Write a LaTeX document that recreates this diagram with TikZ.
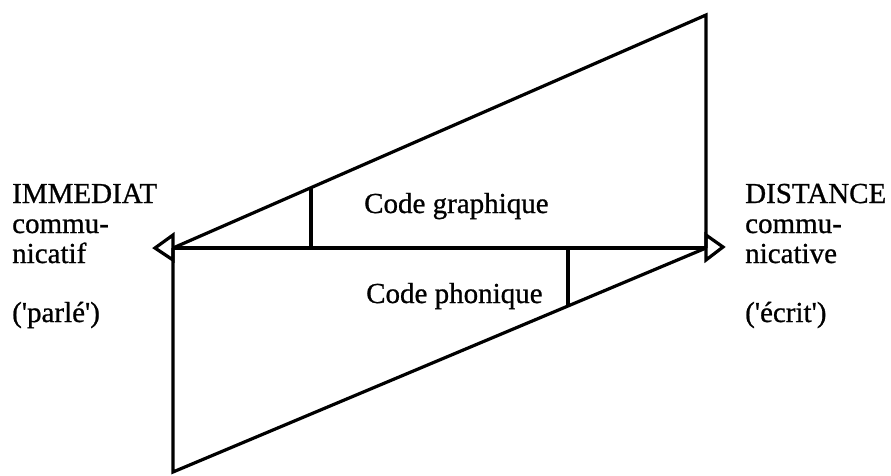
\documentclass[tikz,border=0pt]{standalone}
\usepackage{fontspec}
\setmainfont{Liberation Serif}
\newfontfamily\heavyserif[FakeBold=0.8]{Liberation Serif}
\begin{document}
\begin{tikzpicture}[x=1pt,y=-1pt,
  ln/.style={line width=3.2pt,line join=miter},
  lbl/.style={inner sep=0pt,anchor=base west,font=\heavyserif\fontsize{29}{30}\selectfont},
  code/.style={inner sep=0pt,anchor=base west,font=\heavyserif\fontsize{29}{30}\selectfont}]
\useasboundingbox (0,0) rectangle (891,476);
% key points
\coordinate (L) at (173,248);
\coordinate (R) at (706,248);
\coordinate (T) at (706,15);
\coordinate (B) at (173,472);
\coordinate (g1) at (311,188);
\coordinate (g2) at (311,248);
\coordinate (p1) at (568,248);
\coordinate (p2) at (568,306);
% triangles
\draw[ln] (L) -- (T) -- (R);
\draw[ln] (L) -- (B) -- (R);
\draw[ln] (L) -- (R);
\draw[ln] (g1) -- (g2);
\draw[ln] (p1) -- (p2);
% arrow heads
\draw[ln] (173,235) -- (155,248) -- (173,260) -- cycle;
\draw[ln] (706,235) -- (723,247) -- (706,260) -- cycle;
% texts
\node[code] (cg) at (364,213) {Code graphique};
\node[code] (cp) at (366,303) {Code phonique};
\node[lbl] (l1) at (12,203) {IMMEDIAT};
\node[lbl] (l2) at (12,233) {commu-};
\node[lbl] (l3) at (12,263) {nicatif};
\node[lbl] (l4) at (12,322) {(\textquotesingle parlé\textquotesingle)};
\node[lbl] (r1) at (745,203) {DISTANCE};
\node[lbl] (r2) at (745,233) {commu-};
\node[lbl] (r3) at (745,263) {nicative};
\node[lbl] (r4) at (745,322) {(\textquotesingle écrit\textquotesingle)};
\end{tikzpicture}
\end{document}
